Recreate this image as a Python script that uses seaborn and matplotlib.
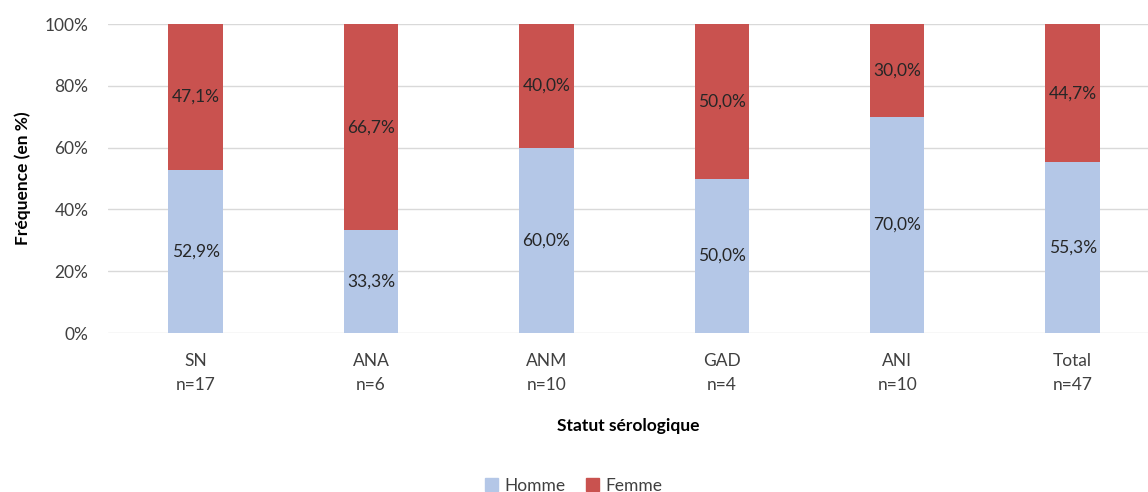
import matplotlib
matplotlib.use("Agg")
import matplotlib.pyplot as plt
import seaborn as sns
import pandas as pd
from matplotlib.ticker import FuncFormatter
from matplotlib.patches import Patch

categories = ["SN\nn=17", "ANA\nn=6", "ANM\nn=10", "GAD\nn=4", "ANI\nn=10", "Total\nn=47"]
homme = [52.9, 33.3, 60.0, 50.0, 70.0, 55.3]
femme = [47.1, 66.7, 40.0, 50.0, 30.0, 44.7]

BLUE = "#B4C7E7"
RED = "#C9524F"

sns.set_style("white")
plt.rcParams["font.family"] = ["Lato", "DejaVu Sans"]

df = pd.DataFrame({"cat": categories, "Homme": homme, "Femme": femme})
df["total"] = df["Homme"] + df["Femme"]

fig = plt.figure(figsize=(11.48, 4.92), dpi=100)
ax = fig.add_axes([0.094, 0.323, 0.906, 0.628])

# femme stacked on homme: draw full bar in red, homme part over it
sns.barplot(data=df, x="cat", y="total", color=RED, width=0.31, saturation=1,
            linewidth=0, ax=ax, zorder=3)
sns.barplot(data=df, x="cat", y="Homme", color=BLUE, width=0.31, saturation=1,
            linewidth=0, ax=ax, zorder=3)

for i, (h, f) in enumerate(zip(homme, femme)):
    ax.text(i, h / 2, f"{h:.1f}%".replace(".", ","), ha="center", va="center",
            fontsize=12.5, color="#262626", zorder=4)
    ax.text(i, h + f / 2, f"{f:.1f}%".replace(".", ","), ha="center", va="center",
            fontsize=12.5, color="#262626", zorder=4)

ax.set_ylim(0, 100)
ax.set_xlim(-0.5, 5.43)
ax.set_yticks(range(0, 101, 20))
ax.yaxis.set_major_formatter(FuncFormatter(lambda v, p: f"{v:.0f}%"))
ax.grid(axis="y", color="#D9D9D9", linewidth=1, zorder=0)
for s in ax.spines.values():
    s.set_visible(False)
ax.tick_params(axis="y", length=0, labelsize=12.5, colors="#404040", pad=14)
ax.tick_params(axis="x", length=0, labelsize=12.5, colors="#404040", pad=14)
for lbl in ax.get_xticklabels():
    lbl.set_linespacing(1.65)
ax.set_ylabel("Fréquence (en %)", fontsize=12.5, fontweight="bold", color="#000000", labelpad=10)
ax.set_xlabel("Statut sérologique", fontsize=12.5, fontweight="bold", color="#000000", labelpad=18)

handles = [Patch(color=BLUE, label="Homme"), Patch(color=RED, label="Femme")]
fig.legend(handles=handles, loc="lower center", bbox_to_anchor=(0.5, -0.035), ncol=2,
           frameon=False, fontsize=12.5, handlelength=0.7, handleheight=0.7,
           columnspacing=1.2, handletextpad=0.4, labelcolor="#404040")

fig.savefig("out.png", dpi=100)
